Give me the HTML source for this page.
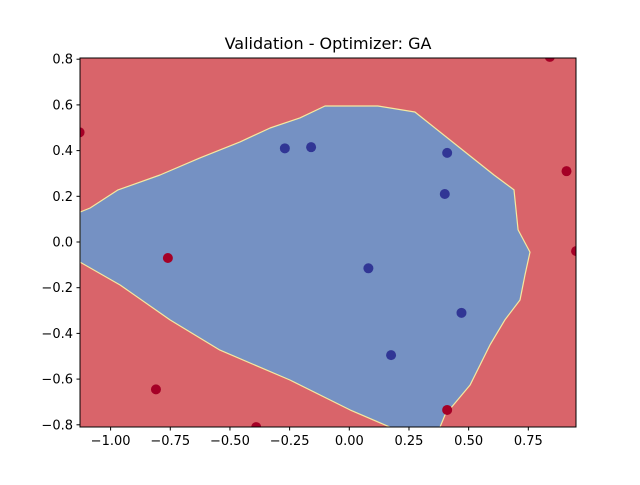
<!DOCTYPE html>
<html><head><meta charset="utf-8"><style>
body{margin:0;background:#fff;}
svg text{font-family:"DejaVu Sans","Liberation Sans",sans-serif;fill:#000;}
</style></head><body>
<svg id="chart" width="640" height="480" xmlns="http://www.w3.org/2000/svg">
<text x="328" y="49" font-size="16" text-anchor="middle">Validation - Optimizer: GA</text>
<defs><clipPath id="clip"><rect x="80" y="58" width="496" height="369"/></clipPath></defs>
<rect x="80" y="58" width="496" height="369" fill="#d9646a"/>
<g id="plot" clip-path="url(#clip)"></g>
<g id="axes"></g>
<rect x="80" y="58" width="496" height="369" fill="none" stroke="#000" stroke-width="1"/>
</svg>
<script>
const xTicks=[-1.00,-0.75,-0.50,-0.25,0.00,0.25,0.50,0.75];
const yTicks=[-0.8,-0.6,-0.4,-0.2,0.0,0.2,0.4,0.6,0.8];
const boundaryX=[-1.128,-1.086,-0.969,-0.793,-0.626,-0.458,-0.332,-0.207,-0.102,0.120,0.275,0.606,0.690,0.707,0.757,0.736,0.715,0.652,0.589,0.506,0.401,0.380,0.170,0.003,-0.249,-0.542,-0.751,-0.960,-1.128];
const boundaryY=[0.131,0.149,0.228,0.293,0.368,0.438,0.499,0.543,0.595,0.595,0.569,0.293,0.228,0.053,-0.044,-0.144,-0.254,-0.341,-0.451,-0.626,-0.757,-0.810,-0.810,-0.735,-0.604,-0.473,-0.341,-0.188,-0.088];
const blueX=[-0.27,-0.16,0.41,0.40,0.08,0.47,0.175];
const blueY=[0.41,0.415,0.39,0.21,-0.115,-0.31,-0.495];
const redX=[-1.13,-0.76,-0.81,-0.39,0.41,0.84,0.91,0.95];
const redY=[0.48,-0.07,-0.645,-0.81,-0.735,0.81,0.31,-0.04];
const sx=v=>349.3+v*238.7;
const sy=v=>242-v*228.5;
const NS='http://www.w3.org/2000/svg';
const plot=document.getElementById('plot'),axes=document.getElementById('axes');
function mk(t,a,p){const e=document.createElementNS(NS,t);for(const k in a)e.setAttribute(k,a[k]);p.appendChild(e);return e;}
const pts=boundaryX.map((x,i)=>sx(x).toFixed(1)+','+sy(boundaryY[i]).toFixed(1)).join(' ');
const poly=mk('polygon',{points:pts,fill:'#7591c3',stroke:'#f5e9a0','stroke-width':1.2,'stroke-linejoin':'round'},plot);


blueX.forEach((x,i)=>{const c=mk('circle',{cx:sx(x),cy:sy(blueY[i]),r:5,fill:'#313695'},plot);

});
redX.forEach((x,i)=>{const c=mk('circle',{cx:sx(x),cy:sy(redY[i]),r:5,fill:'#a50026'},plot);

});
xTicks.forEach(v=>{const x=sx(v);mk('line',{x1:x,x2:x,y1:427,y2:430.5,stroke:'#000'},axes);
const t=mk('text',{x:x,y:445,'font-size':13,'text-anchor':'middle'},axes);t.textContent=v.toFixed(2).replace('-','\u2212');

});
yTicks.forEach(v=>{const y=sy(v);mk('line',{x1:76.5,x2:80,y1:y,y2:y,stroke:'#000'},axes);
const t=mk('text',{x:73,y:y+4.5,'font-size':13,'text-anchor':'end'},axes);t.textContent=v.toFixed(1).replace('-','\u2212');

});
</script>
</body></html>
